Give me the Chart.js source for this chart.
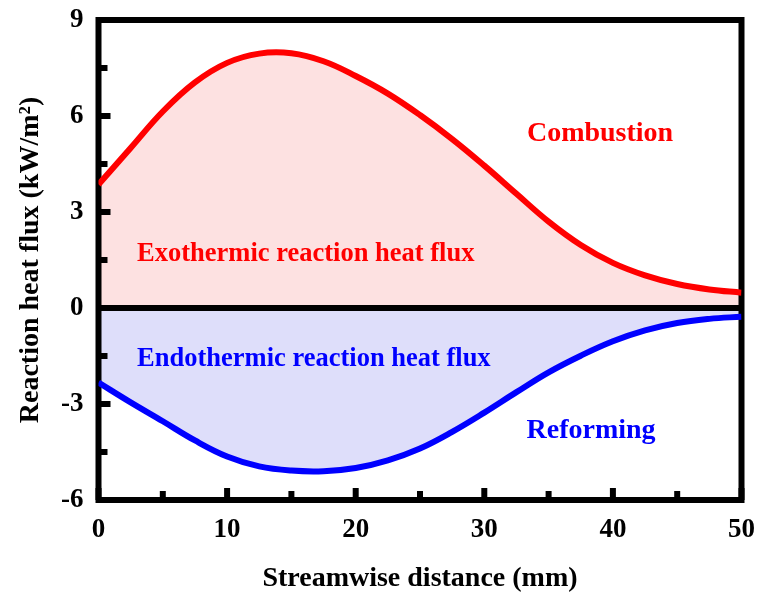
<!DOCTYPE html>
<html>
<head>
<meta charset="utf-8">
<script src="https://cdn.jsdelivr.net/npm/chart.js@4"></script>
<style>
  body { margin: 0; background: #fff; }
</style>
</head>
<body>
<canvas id="chart" width="758" height="593"></canvas>
<script>
// streamwise distance (mm)
const distance = [0, 2.5, 5, 7.5, 10, 12.5, 15, 17.5, 20, 22.5, 25, 27.5, 30, 32.5, 35, 37.5, 40, 42.5, 45, 47.5, 50]
// heat flux (kW/m2)
const combustion = [3.86, 5.0, 6.14, 7.05, 7.66, 7.95, 7.96, 7.71, 7.25, 6.7, 6.03, 5.28, 4.45, 3.57, 2.7, 1.97, 1.41, 1.02, 0.75, 0.58, 0.48]
const reforming = [-2.33, -2.95, -3.54, -4.14, -4.64, -4.95, -5.08, -5.10, -5.0, -4.76, -4.39, -3.87, -3.27, -2.63, -2.01, -1.49, -1.04, -0.7, -0.47, -0.34, -0.27]

const xMajor = [0, 10, 20, 30, 40, 50]
const xMinor = [5, 15, 25, 35, 45]
const yMajor = [-6, -3, 0, 3, 6, 9]
const yMinor = [-4.5, -1.5, 1.5, 4.5, 7.5]

const notes = [
    { text: 'Combustion', x: 39, y: 5.45, color: '#ff0000', align: 'center', size: 28 },
    { text: 'Exothermic reaction heat flux', x: 3.0, y: 1.68, color: '#ff0000', align: 'left', size: 26.5 },
    { text: 'Endothermic reaction heat flux', x: 3.0, y: -1.6, color: '#0000ff', align: 'left', size: 26.5 },
    { text: 'Reforming', x: 38.3, y: -3.85, color: '#0000ff', align: 'center', size: 28 }
]

const serif = 'Liberation Serif'

const toPoints = (ys) => distance.map((x, i) => ({ x: x, y: ys[i] }))

const framePlugin = {
    id: 'frame',
    beforeDatasetsDraw(chart) {
        const { ctx, chartArea: a, scales } = chart
        const sx = scales.x, sy = scales.y
        ctx.save()
        ctx.strokeStyle = '#000'
        ctx.lineWidth = 6
        // zero line
        const y0 = sy.getPixelForValue(0)
        ctx.beginPath()
        ctx.moveTo(a.left, y0)
        ctx.lineTo(a.right, y0)
        ctx.stroke()
        // box
        ctx.strokeRect(a.left, a.top, a.right - a.left, a.bottom - a.top)
        // inward ticks
        const tick = (x1, y1, x2, y2) => {
            ctx.beginPath()
            ctx.moveTo(x1, y1)
            ctx.lineTo(x2, y2)
            ctx.stroke()
        }
        xMajor.forEach(v => { const p = sx.getPixelForValue(v); tick(p, a.bottom, p, a.bottom - 12) })
        xMinor.forEach(v => { const p = sx.getPixelForValue(v); tick(p, a.bottom, p, a.bottom - 9) })
        yMajor.forEach(v => { const p = sy.getPixelForValue(v); tick(a.left, p, a.left + 12, p) })
        yMinor.forEach(v => { const p = sy.getPixelForValue(v); tick(a.left, p, a.left + 9, p) })
        ctx.restore()
    },
    afterDatasetsDraw(chart) {
        const { ctx, scales } = chart
        ctx.save()
        ctx.textBaseline = 'middle'
        notes.forEach(n => {
            ctx.font = 'bold ' + n.size + 'px "' + serif + '"'
            ctx.fillStyle = n.color
            ctx.textAlign = n.align
            ctx.fillText(n.text, scales.x.getPixelForValue(n.x), scales.y.getPixelForValue(n.y))
        })
        ctx.restore()
    }
}

const config = {
    type: 'line',
    data: {
        datasets: [{
            label: 'Combustion',
            data: toPoints(combustion),
            borderColor: '#ff0000',
            backgroundColor: '#fde1e1',
            borderWidth: 6,
            fill: 'origin',
            pointRadius: 0,
            tension: 0.4
        }, {
            label: 'Reforming',
            data: toPoints(reforming),
            borderColor: '#0000ff',
            backgroundColor: '#dedefa',
            borderWidth: 6,
            fill: 'origin',
            pointRadius: 0,
            tension: 0.4
        }]
    },
    options: {
        responsive: false,
        animation: false,
        layout: {
            padding: { top: 20, right: 16.5, left: 0, bottom: 0 }
        },
        scales: {
            x: {
                type: 'linear',
                min: 0,
                max: 50,
                afterFit: (s) => { s.height = 93; s.paddingLeft = 0; s.paddingRight = 0 },
                grid: { display: false, drawTicks: false },
                border: { display: false },
                ticks: {
                    stepSize: 10,
                    padding: 14,
                    color: '#000',
                    font: { family: serif, size: 27, weight: 'bold' }
                },
                title: {
                    display: true,
                    text: 'Streamwise distance (mm)',
                    color: '#000',
                    padding: { top: 0, bottom: -3 },
                    font: { family: serif, size: 28, weight: 'bold' }
                }
            },
            y: {
                min: -6,
                max: 9,
                afterFit: (s) => { s.width = 98.5; s.paddingTop = 0; s.paddingBottom = 0 },
                grid: { display: false, drawTicks: false },
                border: { display: false },
                ticks: {
                    stepSize: 3,
                    padding: 15,
                    color: '#000',
                    font: { family: serif, size: 27, weight: 'bold' }
                },
                title: {
                    display: true,
                    text: 'Reaction heat flux (kW/m²)',
                    color: '#000',
                    padding: { top: 14, bottom: 0 },
                    font: { family: serif, size: 28, weight: 'bold' }
                }
            }
        },
        plugins: {
            legend: { display: false },
            tooltip: { enabled: false },
            filler: { drawTime: 'beforeDraw' }
        }
    },
    plugins: [framePlugin]
}

new Chart(document.getElementById('chart'), config)
</script>
</body>
</html>
